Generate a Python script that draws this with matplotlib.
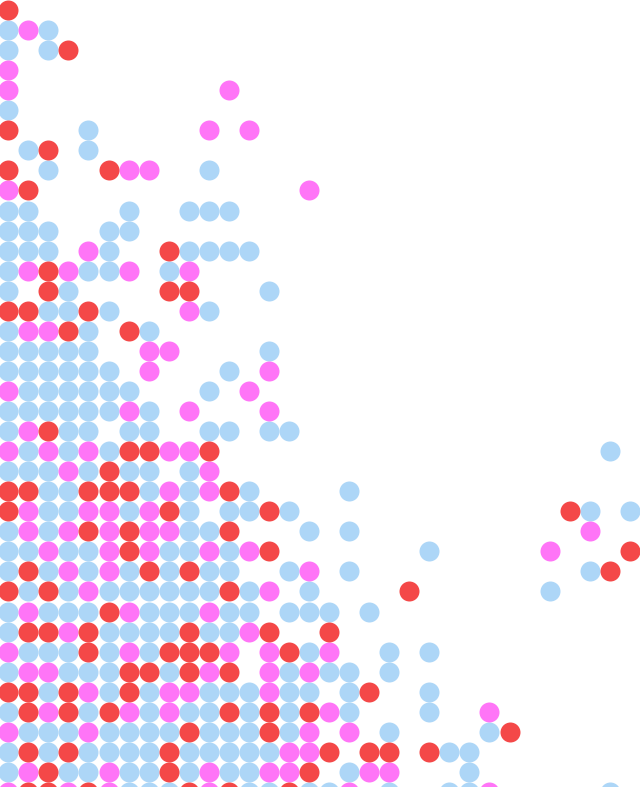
import matplotlib
matplotlib.use("Agg")
import matplotlib.pyplot as plt

# b = blue, m = magenta, r = red, . = empty; one string per grid row
rows = [
    "r",
    "bmb",
    "b.br",
    "m",
    "m..........m",
    "b",
    "r...b.....m.m",
    ".br.b",
    "r.b..rmm..b",
    "mr.............m",
    "bb....b..bbb",
    "bbb..bb",
    "bbb.mb..rbbbb",
    "bmrmbbm.bm",
    "b.rb....rr...b",
    "rrbbrb...mb",
    "bmmrb.rb",
    "bbbbb..mm....b",
    "bbbbbb.m...b.m",
    "mbbbbbb...b.m",
    "bbbbbbmb.m...m",
    "bmrbb.bb..bb.bb",
    "mbmbmbrrmmr...................b",
    "bbbmbrbb.bm",
    "rrbbrrrbmbmrb....b",
    "rmbbmmbmrb.bbrb.............rb.b",
    "bmbmrmrmmbbr...b.b...........m",
    "bbmbbmrmbbmbmr.......b.....m...r",
    "brbmbmbrbrbb..bm.b...........br",
    "rbrbmbbbbbbrbm.b....r......b",
    "bmbbbrmbbbmbb.bbb.b",
    "brrmrbbbbrbbmr..r",
    "mbbbrbmbrrrm.mrbm..b.b",
    "bmmbbbrrbrmr.mbmbb.b",
    "rrbrmbrbmmbbbmbb.br..b",
    "brmrbrmbmbbrbrbrmb...b..m",
    "mbbbmbbbbrbbbrbm.m.b....br",
    "brbrbbbbrbbbbbmmr.rr.rbb",
    "bmrbbmbbrbmbbmmr.bmm...b",
    "mrrmrmbbbrmrbbrbbm.b..bbm.....b",
]

colors = {"b": "#add6f7", "m": "#ff75f7", "r": "#f44848"}

W, H = 640, 787
PITCH = 20.05
fig = plt.figure(figsize=(W / 100, H / 100), dpi=100, facecolor="white")
ax = fig.add_axes([0, 0, 1, 1])
ax.set_xlim(-8.3 / PITCH, (W - 8.3) / PITCH)
ax.set_ylim((H - 10) / PITCH, -10 / PITCH)
ax.axis("off")

for key, color in colors.items():
    xs, ys = [], []
    for r, row in enumerate(rows):
        for c, ch in enumerate(row):
            if ch == key:
                xs.append(c)
                ys.append(r)
    ax.scatter(xs, ys, s=(20 * 0.72) ** 2, c=color, linewidths=0, zorder=2)

fig.savefig("out.png", dpi=100, facecolor="white")
